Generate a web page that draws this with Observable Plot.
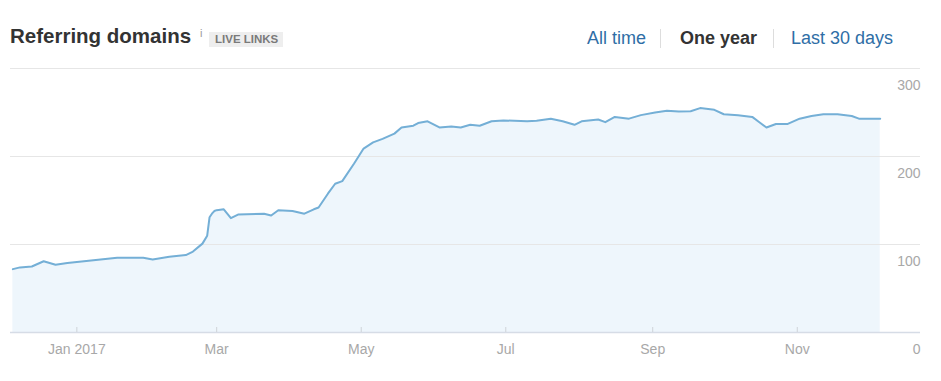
<!DOCTYPE html>
<html>
<head>
<meta charset="utf-8">
<script src="https://cdn.jsdelivr.net/npm/d3@7"></script>
<script src="https://cdn.jsdelivr.net/npm/@observablehq/plot@0.6"></script>
<style>
  html, body { margin: 0; padding: 0; background: #fff; }
  body { width: 941px; height: 381px; overflow: hidden; font-family: "Liberation Sans", Arial, Helvetica, sans-serif; }
  #header { position: relative; width: 941px; height: 60px; }
  #header span { position: absolute; white-space: nowrap; }
  .title { left: 10px; top: 24px; font-size: 20.5px; font-weight: bold; color: #333; }
  .info { left: 200px; top: 27px; font-size: 11px; color: #999; }
  .badge { left: 209px; top: 32px; height: 15px; line-height: 15px; padding: 0 5px 0 6px; background: #eeeeee; font-size: 11.5px; font-weight: bold; color: #7a7a7a; }
  .link { top: 28px; font-size: 18px; color: #2f6ea6; }
  .active { top: 28px; font-size: 18px; font-weight: bold; color: #333; }
  .sep { top: 29px; width: 1px; height: 19px; background: #dddddd; }
  #chart svg { display: block; }
</style>
</head>
<body>
<div id="header">
  <span class="title">Referring domains</span>
  <span class="info">i</span>
  <span class="badge">LIVE LINKS</span>
  <span class="link" style="left:587px">All time</span>
  <span class="sep" style="left:660px"></span>
  <span class="active" style="left:680px">One year</span>
  <span class="sep" style="left:773px"></span>
  <span class="link" style="left:791px">Last 30 days</span>
</div>
<div id="chart"></div>
<script>
// Data
const dates = [
  "2016-12-05","2016-12-08","2016-12-13","2016-12-18","2016-12-23","2016-12-28",
  "2017-01-04","2017-01-11","2017-01-18","2017-01-29","2017-02-02","2017-02-09",
  "2017-02-16","2017-02-19","2017-02-23","2017-02-25","2017-02-26","2017-02-27",
  "2017-02-28","2017-03-01","2017-03-04","2017-03-07","2017-03-10","2017-03-21",
  "2017-03-24","2017-03-27","2017-04-02","2017-04-07","2017-04-11","2017-04-13",
  "2017-04-17","2017-04-20","2017-04-23","2017-04-28","2017-05-02","2017-05-06",
  "2017-05-10","2017-05-15","2017-05-18","2017-05-23","2017-05-25","2017-05-29",
  "2017-06-03","2017-06-08","2017-06-12","2017-06-16","2017-06-20","2017-06-25",
  "2017-06-30","2017-07-10","2017-07-14","2017-07-20","2017-07-25","2017-07-30",
  "2017-08-02","2017-08-09","2017-08-12","2017-08-16","2017-08-22","2017-08-27",
  "2017-09-02","2017-09-07","2017-09-12","2017-09-17","2017-09-21","2017-09-27",
  "2017-10-01","2017-10-07","2017-10-13","2017-10-16","2017-10-19","2017-10-23",
  "2017-10-28","2017-11-02","2017-11-07","2017-11-12","2017-11-18","2017-11-24",
  "2017-11-27","2017-12-02","2017-12-06"
];
const values = [
  72, 74, 75, 81, 77, 79,
  81, 83, 85, 85, 83, 86,
  88, 92, 101, 110, 131, 135,
  138, 139, 140, 130, 134, 135,
  133, 139, 138, 135, 140, 142,
  158, 169, 172, 192, 209, 216,
  220, 226, 233, 235, 238, 240,
  233, 234, 233, 236, 235, 240,
  241, 240, 240.5, 243, 240, 236,
  240, 242, 239, 245, 243, 247,
  250, 252, 251, 251.5, 255, 253,
  248, 247, 245, 239, 233, 237,
  237, 243, 246, 248, 248, 246,
  243, 243, 243
];
const yTicks = [0, 100, 200, 300];
const xTickDates = ["2017-01-01","2017-03-01","2017-05-01","2017-07-01","2017-09-01","2017-11-01"];
const xTickLabels = ["Jan 2017","Mar","May","Jul","Sep","Nov"];
const xDomain = ["2016-12-04","2017-12-23"];

const data = dates.map((d, i) => ({date: new Date(d), value: values[i]}));
const xTicks = xTickDates.map(d => new Date(d));
const labelOf = new Map(xTickDates.map((d, i) => [+new Date(d), xTickLabels[i]]));

const chart = Plot.plot({
  width: 941,
  height: 321,
  marginLeft: 10,
  marginRight: 21,
  marginTop: 8,
  marginBottom: 49,
  style: {fontFamily: '"Liberation Sans", Arial, Helvetica, sans-serif', fontSize: "14px", color: "#a8a8a8", background: "#fff"},
  x: {type: "utc", domain: xDomain.map(d => new Date(d))},
  y: {domain: [0, 300]},
  marks: [
    Plot.areaY(data, {x: "date", y: "value", fill: "#eef6fc"}),
    Plot.gridY(yTicks.filter(d => d > 0), {stroke: "#e6e6e6", strokeOpacity: 1}),
    Plot.ruleY([0], {stroke: "#d6dce6", strokeWidth: 1.5}),
    Plot.axisX(xTicks, {tickSize: -5, tickFormat: () => "", stroke: "#cfd3d8", label: null}),
    Plot.axisX(xTicks, {tickSize: 0, tickPadding: 12, tickFormat: d => labelOf.get(+d), fill: "#a8a8a8", label: null}),
    Plot.axisY(yTicks, {anchor: "right", tickSize: 0, tickPadding: 0, textAnchor: "end", dy: 17.5, fill: "#a8a8a8", label: null}),
    Plot.lineY(data, {x: "date", y: "value", stroke: "#74afd6", strokeWidth: 2})
  ]
});
document.getElementById("chart").appendChild(chart);
</script>
</body>
</html>
